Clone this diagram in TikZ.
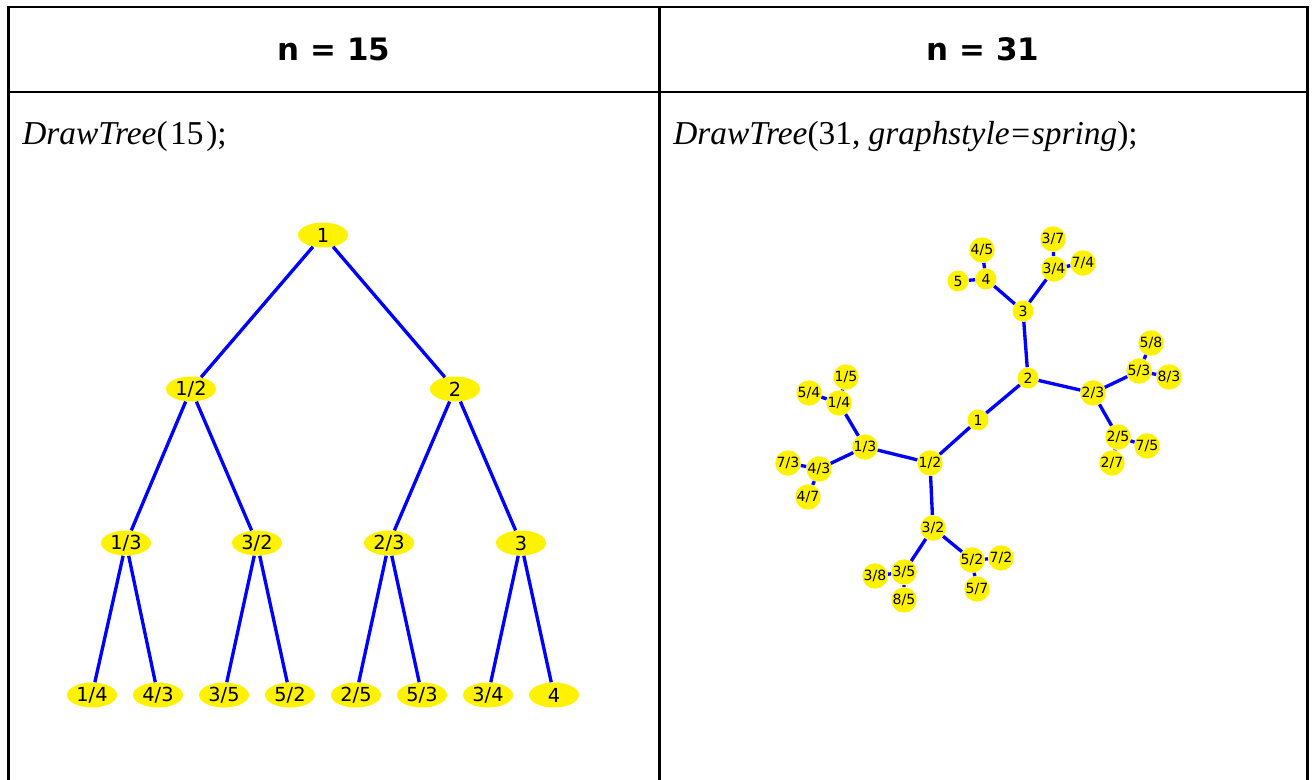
\documentclass[tikz,border=0pt]{standalone}
\usepackage{fontspec}
\setmainfont{Liberation Serif}
\setsansfont{DejaVu Sans}
\usetikzlibrary{shapes.geometric}
\tikzset{
  grid/.style={line width=1.7pt},
  edge/.style={blue,line width=1.9pt},
  bignode/.style={ellipse,fill=yellow,minimum width=1cm,minimum height=0.5cm,inner sep=0pt,font=\sffamily\fontsize{11}{12}\selectfont},
  smallnode/.style={circle,fill=yellow,minimum size=0.42cm,inner sep=0pt,font=\sffamily\fontsize{8}{9}\selectfont},
  title/.style={anchor=base,font=\sffamily\bfseries\fontsize{17.6}{20}\selectfont},
  code/.style={anchor=base west,inner sep=0pt,font=\fontsize{19}{22}\selectfont}
}
\begin{document}
\begin{tikzpicture}[x=0.02cm,y=-0.02cm]
\useasboundingbox (0,0) rectangle (1314,780);
\draw[grid] (8.5,780) -- (8.5,7) -- (1307,7) -- (1307,780);
\draw[grid] (7,92) -- (1308,92);
\draw[grid] (659,7) -- (659,780);
\node[title] (t15) at (334,61) {n = 15};
\node[title] (t31) at (983,61) {n = 31};
\node[code] (c15) at (22,145) {\textit{DrawTree}(\kern1.5pt15\kern1.5pt);};
\node[code] (c31) at (673,145) {\textit{DrawTree}(31, \textit{graphstyle}\kern1pt=\kern1pt\textit{spring});};
% binary tree
\node[bignode] (L1) at (323,235) {1};
\node[bignode] (L12) at (191,389) {1/2};
\node[bignode] (L2) at (455,389) {2};
\node[bignode] (L13) at (126,543) {1/3};
\node[bignode] (L32) at (257,543) {3/2};
\node[bignode] (L23) at (389,543) {2/3};
\node[bignode] (L3) at (521,543) {3};
\node[bignode] (L14) at (92,695) {1/4};
\node[bignode] (L43) at (158,695) {4/3};
\node[bignode] (L35) at (224,695) {3/5};
\node[bignode] (L52) at (290,695) {5/2};
\node[bignode] (L25) at (356,695) {2/5};
\node[bignode] (L53) at (422,695) {5/3};
\node[bignode] (L34) at (488,695) {3/4};
\node[bignode] (L4) at (554,695) {4};
\draw[edge] (L1) -- (L12) (L1) -- (L2)
  (L12) -- (L13) (L12) -- (L32) (L2) -- (L23) (L2) -- (L3)
  (L13) -- (L14) (L13) -- (L43) (L32) -- (L35) (L32) -- (L52)
  (L23) -- (L25) (L23) -- (L53) (L3) -- (L34) (L3) -- (L4);
% spring layout
\node[smallnode] (R1) at (978,420) {1};
\node[smallnode] (R2) at (1028,378) {2};
\node[smallnode] (R3) at (1023,311) {3};
\node[smallnode] (R4) at (986,279) {4};
\node[smallnode] (R5) at (958,281) {5};
\node[smallnode] (R45) at (982,250) {4/5};
\node[smallnode] (R34) at (1054,269) {3/4};
\node[smallnode] (R37) at (1053,239) {3/7};
\node[smallnode] (R74) at (1083,263) {7/4};
\node[smallnode] (R23) at (1093,393) {2/3};
\node[smallnode] (R53) at (1139,371) {5/3};
\node[smallnode] (R58) at (1151,343) {5/8};
\node[smallnode] (R83) at (1169,377) {8/3};
\node[smallnode] (R25) at (1118,437) {2/5};
\node[smallnode] (R75) at (1147,446) {7/5};
\node[smallnode] (R27) at (1112,463) {2/7};
\node[smallnode] (R12) at (930,463) {1/2};
\node[smallnode] (R13) at (865,447) {1/3};
\node[smallnode] (R14) at (839,403) {1/4};
\node[smallnode] (R15) at (846,377) {1/5};
\node[smallnode] (R54) at (809,393) {5/4};
\node[smallnode] (R43) at (819,469) {4/3};
\node[smallnode] (R73) at (788,463) {7/3};
\node[smallnode] (R47) at (808,497) {4/7};
\node[smallnode] (R32) at (933,528) {3/2};
\node[smallnode] (R35) at (904,572) {3/5};
\node[smallnode] (R38) at (875,576) {3/8};
\node[smallnode] (R85) at (904,600) {8/5};
\node[smallnode] (R52) at (972,560) {5/2};
\node[smallnode] (R72) at (1001,558) {7/2};
\node[smallnode] (R57) at (977,589) {5/7};
\draw[edge] (R1) -- (R12) (R1) -- (R2) (R2) -- (R3) (R2) -- (R23)
  (R3) -- (R4) (R3) -- (R34) (R4) -- (R5) (R4) -- (R45)
  (R34) -- (R37) (R34) -- (R74) (R23) -- (R53) (R23) -- (R25)
  (R53) -- (R58) (R53) -- (R83) (R25) -- (R75) (R25) -- (R27)
  (R12) -- (R13) (R12) -- (R32) (R13) -- (R14) (R13) -- (R43)
  (R14) -- (R15) (R14) -- (R54) (R43) -- (R73) (R43) -- (R47)
  (R32) -- (R35) (R32) -- (R52) (R35) -- (R38) (R35) -- (R85)
  (R52) -- (R72) (R52) -- (R57);
\end{tikzpicture}
\end{document}
